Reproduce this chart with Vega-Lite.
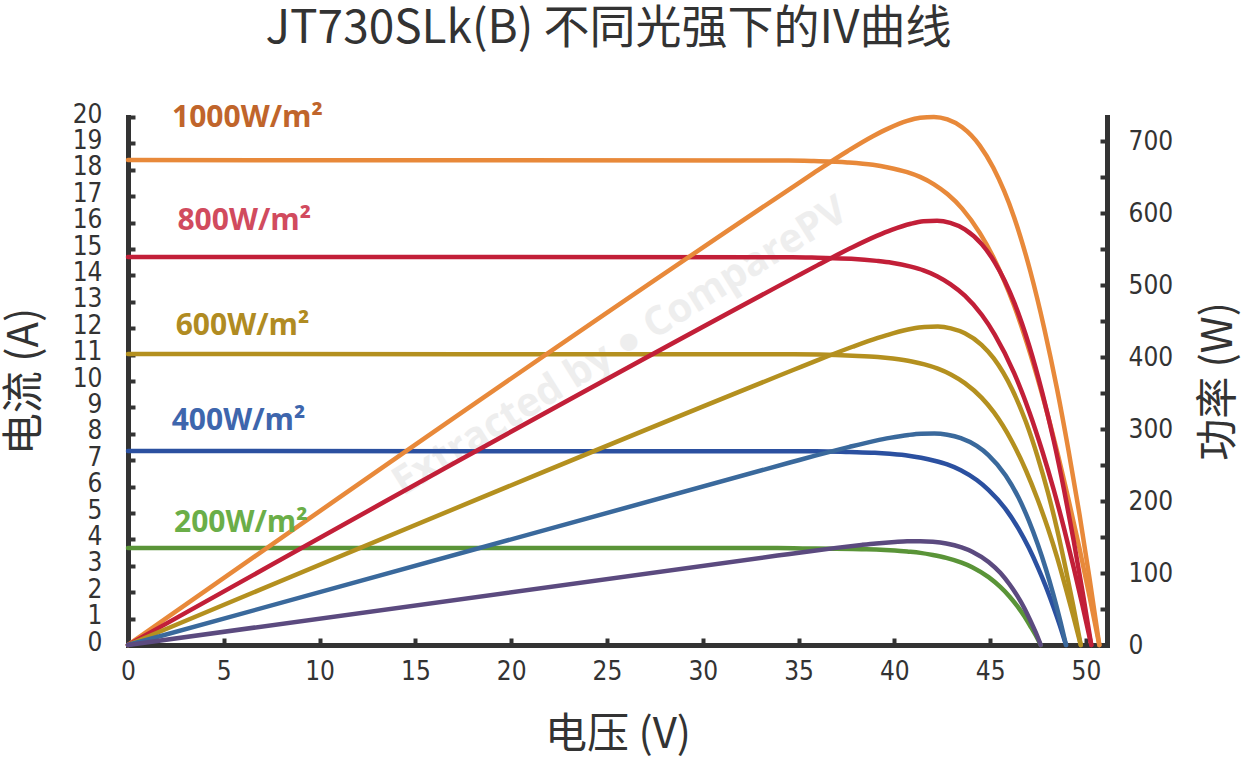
{
  "$schema": "https://vega.github.io/schema/vega-lite/v6.json",
  "autosize": "none",
  "width": 979,
  "height": 528,
  "padding": {"left": 128, "top": 117, "right": 136, "bottom": 114},
  "background": "white",
  "title": {
    "text": "JT730SLk(B) 不同光强下的IV曲线",
    "font": "Noto Sans CJK SC",
    "fontSize": 46,
    "fontWeight": "normal",
    "color": "#333333",
    "anchor": "middle",
    "offset": 48,
    "dx": -9
  },
  "datasets": {
    "curves": [
      {"g": "1000", "V": 0, "I": 18.37, "P": 0},
      {"g": "1000", "V": 34.48, "I": 18.35, "P": 632.8},
      {"g": "1000", "V": 35.8, "I": 18.33, "P": 656.3},
      {"g": "1000", "V": 37.55, "I": 18.28, "P": 686.4},
      {"g": "1000", "V": 38.88, "I": 18.19, "P": 707.2},
      {"g": "1000", "V": 39.67, "I": 18.09, "P": 717.8},
      {"g": "1000", "V": 40.67, "I": 17.91, "P": 728.5},
      {"g": "1000", "V": 41.34, "I": 17.73, "P": 732.9},
      {"g": "1000", "V": 42.07, "I": 17.45, "P": 734.1},
      {"g": "1000", "V": 42.77, "I": 17.08, "P": 730.6},
      {"g": "1000", "V": 43.54, "I": 16.53, "P": 719.8},
      {"g": "1000", "V": 44.46, "I": 15.61, "P": 694.3},
      {"g": "1000", "V": 45.16, "I": 14.7, "P": 663.7},
      {"g": "1000", "V": 46.25, "I": 12.86, "P": 594.7},
      {"g": "1000", "V": 47.1, "I": 11.02, "P": 519.2},
      {"g": "1000", "V": 47.83, "I": 9.19, "P": 439.4},
      {"g": "1000", "V": 48.49, "I": 7.35, "P": 356.3},
      {"g": "1000", "V": 49.09, "I": 5.51, "P": 270.6},
      {"g": "1000", "V": 49.66, "I": 3.67, "P": 182.4},
      {"g": "1000", "V": 50.19, "I": 1.84, "P": 92.2},
      {"g": "1000", "V": 50.7, "I": 0, "P": 0},

      {"g": "800", "V": 0, "I": 14.7, "P": 0},
      {"g": "800", "V": 34.68, "I": 14.69, "P": 509.3},
      {"g": "800", "V": 36.0, "I": 14.67, "P": 528.1},
      {"g": "800", "V": 37.75, "I": 14.63, "P": 552.1},
      {"g": "800", "V": 39.08, "I": 14.55, "P": 568.7},
      {"g": "800", "V": 39.86, "I": 14.48, "P": 577.1},
      {"g": "800", "V": 40.86, "I": 14.33, "P": 585.6},
      {"g": "800", "V": 41.52, "I": 14.19, "P": 589.0},
      {"g": "800", "V": 42.23, "I": 13.97, "P": 589.8},
      {"g": "800", "V": 42.92, "I": 13.67, "P": 586.8},
      {"g": "800", "V": 43.68, "I": 13.23, "P": 577.8},
      {"g": "800", "V": 44.57, "I": 12.5, "P": 556.9},
      {"g": "800", "V": 45.24, "I": 11.76, "P": 532.0},
      {"g": "800", "V": 46.26, "I": 10.29, "P": 476.0},
      {"g": "800", "V": 47.05, "I": 8.82, "P": 415.0},
      {"g": "800", "V": 47.72, "I": 7.35, "P": 350.8},
      {"g": "800", "V": 48.32, "I": 5.88, "P": 284.1},
      {"g": "800", "V": 48.86, "I": 4.41, "P": 215.5},
      {"g": "800", "V": 49.36, "I": 2.94, "P": 145.1},
      {"g": "800", "V": 49.83, "I": 1.47, "P": 73.3},
      {"g": "800", "V": 50.28, "I": 0, "P": 0},

      {"g": "600", "V": 0, "I": 11.02, "P": 0},
      {"g": "600", "V": 34.75, "I": 11.01, "P": 382.6},
      {"g": "600", "V": 36.07, "I": 11.0, "P": 396.7},
      {"g": "600", "V": 37.82, "I": 10.96, "P": 414.6},
      {"g": "600", "V": 39.14, "I": 10.91, "P": 427.0},
      {"g": "600", "V": 39.92, "I": 10.85, "P": 433.3},
      {"g": "600", "V": 40.91, "I": 10.74, "P": 439.6},
      {"g": "600", "V": 41.57, "I": 10.63, "P": 442.0},
      {"g": "600", "V": 42.27, "I": 10.47, "P": 442.6},
      {"g": "600", "V": 42.95, "I": 10.25, "P": 440.2},
      {"g": "600", "V": 43.68, "I": 9.92, "P": 433.3},
      {"g": "600", "V": 44.55, "I": 9.37, "P": 417.3},
      {"g": "600", "V": 45.19, "I": 8.82, "P": 398.4},
      {"g": "600", "V": 46.14, "I": 7.71, "P": 355.9},
      {"g": "600", "V": 46.87, "I": 6.61, "P": 309.9},
      {"g": "600", "V": 47.48, "I": 5.51, "P": 261.6},
      {"g": "600", "V": 48.02, "I": 4.41, "P": 211.7},
      {"g": "600", "V": 48.5, "I": 3.31, "P": 160.3},
      {"g": "600", "V": 48.93, "I": 2.2, "P": 107.9},
      {"g": "600", "V": 49.34, "I": 1.1, "P": 54.4},
      {"g": "600", "V": 49.73, "I": 0, "P": 0},

      {"g": "400", "V": 0, "I": 7.35, "P": 0},
      {"g": "400", "V": 34.6, "I": 7.34, "P": 254.0},
      {"g": "400", "V": 35.92, "I": 7.34, "P": 263.5},
      {"g": "400", "V": 37.66, "I": 7.31, "P": 275.4},
      {"g": "400", "V": 38.98, "I": 7.28, "P": 283.7},
      {"g": "400", "V": 39.76, "I": 7.24, "P": 287.9},
      {"g": "400", "V": 40.74, "I": 7.17, "P": 292.0},
      {"g": "400", "V": 41.4, "I": 7.09, "P": 293.6},
      {"g": "400", "V": 42.09, "I": 6.98, "P": 293.9},
      {"g": "400", "V": 42.76, "I": 6.84, "P": 292.3},
      {"g": "400", "V": 43.47, "I": 6.62, "P": 287.6},
      {"g": "400", "V": 44.3, "I": 6.25, "P": 276.8},
      {"g": "400", "V": 44.91, "I": 5.88, "P": 264.1},
      {"g": "400", "V": 45.81, "I": 5.15, "P": 235.7},
      {"g": "400", "V": 46.48, "I": 4.41, "P": 205.0},
      {"g": "400", "V": 47.02, "I": 3.68, "P": 172.8},
      {"g": "400", "V": 47.49, "I": 2.94, "P": 139.6},
      {"g": "400", "V": 47.91, "I": 2.21, "P": 105.6},
      {"g": "400", "V": 48.29, "I": 1.47, "P": 71.0},
      {"g": "400", "V": 48.64, "I": 0.74, "P": 35.8},
      {"g": "400", "V": 48.96, "I": 0, "P": 0},

      {"g": "200", "V": 0, "I": 3.67, "P": 0},
      {"g": "200", "V": 33.9, "I": 3.67, "P": 124.3},
      {"g": "200", "V": 35.22, "I": 3.66, "P": 129.0},
      {"g": "200", "V": 36.96, "I": 3.65, "P": 135.0},
      {"g": "200", "V": 38.28, "I": 3.63, "P": 139.1},
      {"g": "200", "V": 39.05, "I": 3.62, "P": 141.2},
      {"g": "200", "V": 40.03, "I": 3.58, "P": 143.2},
      {"g": "200", "V": 40.67, "I": 3.54, "P": 144.1},
      {"g": "200", "V": 41.36, "I": 3.49, "P": 144.2},
      {"g": "200", "V": 42.01, "I": 3.41, "P": 143.4},
      {"g": "200", "V": 42.71, "I": 3.3, "P": 141.1},
      {"g": "200", "V": 43.51, "I": 3.12, "P": 135.7},
      {"g": "200", "V": 44.09, "I": 2.94, "P": 129.4},
      {"g": "200", "V": 44.92, "I": 2.57, "P": 115.4},
      {"g": "200", "V": 45.53, "I": 2.2, "P": 100.3},
      {"g": "200", "V": 46.01, "I": 1.84, "P": 84.4},
      {"g": "200", "V": 46.42, "I": 1.47, "P": 68.2},
      {"g": "200", "V": 46.78, "I": 1.1, "P": 51.5},
      {"g": "200", "V": 47.09, "I": 0.73, "P": 34.6},
      {"g": "200", "V": 47.38, "I": 0.37, "P": 17.4},
      {"g": "200", "V": 47.64, "I": 0, "P": 0}
    ],
    "labels": [
      {"label": "1000W/m²", "V": 2.3, "I": 19.61},
      {"label": "800W/m²", "V": 2.58, "I": 15.72},
      {"label": "600W/m²", "V": 2.49, "I": 11.74},
      {"label": "400W/m²", "V": 2.28, "I": 8.14},
      {"label": "200W/m²", "V": 2.4, "I": 4.29}
    ],
    "watermark": [
      {"text": "Extracted by ● ComparePV", "V": 25.7, "I": 11.3}
    ]
  },
  "encoding": {
    "x": {
      "field": "V",
      "type": "quantitative",
      "scale": {"domain": [0, 51.1], "nice": false, "zero": true},
      "axis": {
        "values": [0, 5, 10, 15, 20, 25, 30, 35, 40, 45, 50],
        "title": "电压 (V)",
        "titleFont": "Noto Sans CJK SC",
        "titleFontSize": 42,
        "titleFontWeight": "normal",
        "titleColor": "#333333",
        "titlePadding": 30,
        "labelFont": "DejaVu Sans Condensed, Roboto",
        "labelFontSize": 26,
        "labelColor": "#333333",
        "labelPadding": 20,
        "labelFlush": false,
        "labelOverlap": false,
        "domainColor": "#333333",
        "domainWidth": 5,
        "domainCap": "square",
        "tickColor": "#333333",
        "tickWidth": 4,
        "tickSize": -7,
        "grid": false
      }
    }
  },
  "layer": [
    {
      "data": {"name": "watermark"},
      "mark": {
        "type": "text",
        "font": "Open Sans",
        "fontWeight": "bold",
        "fontSize": 40,
        "angle": -32,
        "align": "center",
        "baseline": "middle",
        "color": "#eeeeee"
      },
      "encoding": {
        "y": {"field": "I", "type": "quantitative", "scale": {"domain": [0, 20], "nice": false}, "axis": null},
        "text": {"field": "text"}
      }
    },
    {
      "data": {"name": "curves"},
      "mark": {"type": "line", "strokeWidth": 4.5, "strokeCap": "round", "interpolate": "monotone"},
      "encoding": {
        "y": {
          "field": "I",
          "type": "quantitative",
          "scale": {"domain": [0, 20], "nice": false},
          "axis": {
            "orient": "left",
            "values": [0, 1, 2, 3, 4, 5, 6, 7, 8, 9, 10, 11, 12, 13, 14, 15, 16, 17, 18, 19, 20],
            "title": "电流 (A)",
            "titleFont": "Noto Sans CJK SC",
            "titleFontSize": 42,
            "titleFontWeight": "normal",
            "titleColor": "#333333",
            "titlePadding": 26,
            "labelFont": "DejaVu Sans Condensed, Roboto",
            "labelFontSize": 26,
            "labelColor": "#333333",
            "labelPadding": 33,
            "labelAlign": "right",
            "labelOffset": -3,
            "labelFlush": false,
            "labelOverlap": false,
            "domainColor": "#333333",
            "domainWidth": 5,
            "domainCap": "square",
            "tickColor": "#333333",
            "tickWidth": 4,
            "tickSize": -7,
            "grid": false
          }
        },
        "color": {
          "field": "g",
          "type": "nominal",
          "scale": {
            "domain": ["1000", "800", "600", "400", "200"],
            "range": ["#E8893A", "#C21F38", "#B4901F", "#2B50A0", "#5A9438"]
          },
          "legend": null
        }
      }
    },
    {
      "data": {"name": "curves"},
      "mark": {"type": "line", "strokeWidth": 4.5, "strokeCap": "round", "interpolate": "monotone"},
      "encoding": {
        "y": {
          "field": "P",
          "type": "quantitative",
          "scale": {"domain": [0, 734], "nice": false},
          "axis": {
            "orient": "right",
            "values": [0, 50, 100, 150, 200, 250, 300, 350, 400, 450, 500, 550, 600, 650, 700],
            "labelExpr": "datum.value % 100 === 0 ? datum.label : ''",
            "title": "功率 (W)",
            "titleAngle": 270,
            "titleBaseline": "top",
            "titleFont": "Noto Sans CJK SC",
            "titleFontSize": 42,
            "titleFontWeight": "normal",
            "titleColor": "#333333",
            "titlePadding": 26,
            "labelFont": "DejaVu Sans Condensed, Roboto",
            "labelFontSize": 26,
            "labelColor": "#333333",
            "labelPadding": 28,
            "labelAlign": "left",
            "labelFlush": false,
            "labelOverlap": false,
            "domainColor": "#333333",
            "domainWidth": 5,
            "domainCap": "square",
            "tickColor": "#333333",
            "tickWidth": 4,
            "tickSize": -7,
            "grid": false
          }
        },
        "color": {
          "field": "g",
          "type": "nominal",
          "scale": {
            "domain": ["1000", "800", "600", "400", "200"],
            "range": ["#E8893A", "#C21F38", "#B4901F", "#3A699C", "#5B4A7F"]
          },
          "legend": null
        }
      }
    },
    {
      "data": {"name": "labels"},
      "mark": {
        "type": "text",
        "font": "Open Sans",
        "fontWeight": "bold",
        "fontSize": 30,
        "align": "left",
        "baseline": "alphabetic"
      },
      "encoding": {
        "y": {"field": "I", "type": "quantitative", "scale": {"domain": [0, 20], "nice": false}, "axis": null},
        "text": {"field": "label"},
        "color": {
          "field": "label",
          "type": "nominal",
          "scale": {
            "domain": ["1000W/m²", "800W/m²", "600W/m²", "400W/m²", "200W/m²"],
            "range": ["#C0652B", "#D14B5E", "#B08B22", "#3E66AD", "#6BAE48"]
          },
          "legend": null
        }
      }
    }
  ],
  "resolve": {"scale": {"y": "independent", "color": "independent"}},
  "config": {
    "view": {"stroke": null},
    "axis": {"grid": false}
  }
}
